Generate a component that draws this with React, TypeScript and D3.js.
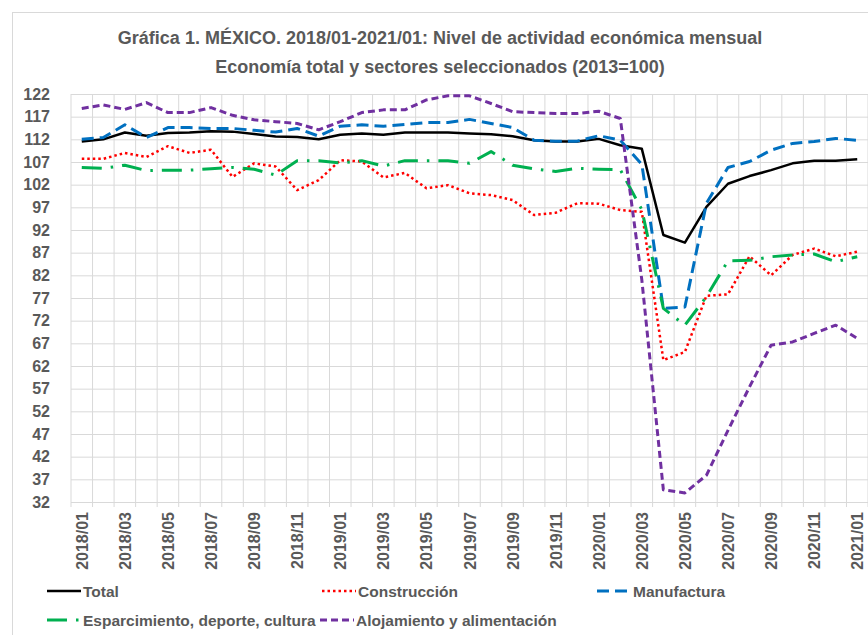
import React, { useEffect, useRef } from 'react';
import * as d3 from 'd3';

const months = [
  '2018/01', '2018/02', '2018/03', '2018/04', '2018/05', '2018/06', '2018/07', '2018/08', '2018/09', '2018/10', '2018/11', '2018/12',
  '2019/01', '2019/02', '2019/03', '2019/04', '2019/05', '2019/06', '2019/07', '2019/08', '2019/09', '2019/10', '2019/11', '2019/12',
  '2020/01', '2020/02', '2020/03', '2020/04', '2020/05', '2020/06', '2020/07', '2020/08', '2020/09', '2020/10', '2020/11', '2020/12',
  '2021/01',
];

const total = [
  111.5, 112.0, 113.5, 112.8, 113.4, 113.5, 113.8, 113.7, 113.2, 112.6, 112.5, 112.0,
  113.0, 113.3, 113.0, 113.5, 113.5, 113.5, 113.3, 113.1, 112.7, 111.8, 111.5, 111.5,
  112.1, 110.7, 109.9, 90.9, 89.2, 97.1, 102.2, 103.9, 105.2, 106.7, 107.3, 107.3,
  107.6,
];

const construccion = [
  107.7, 107.7, 109.0, 108.1, 110.5, 109.0, 109.7, 103.7, 106.7, 106.0, 100.8, 103.0,
  107.4, 107.1, 103.6, 104.6, 101.2, 101.9, 100.1, 99.7, 98.6, 95.3, 95.8, 97.9,
  97.8, 96.4, 96.0, 63.3, 65.1, 77.5, 77.8, 86.2, 82.0, 86.5, 87.9, 86.2,
  87.2,
];

const manufactura = [
  112.0, 112.4, 115.2, 112.4, 114.6, 114.6, 114.4, 114.4, 114.0, 113.6, 114.4, 112.7,
  114.9, 115.2, 114.9, 115.3, 115.7, 115.7, 116.4, 115.5, 114.6, 111.8, 111.6, 111.6,
  112.8, 111.8, 106.5, 74.7, 75.0, 97.9, 105.8, 107.1, 109.6, 111.1, 111.5, 112.2,
  111.8,
];

const esparcimiento = [
  105.8, 105.6, 106.3, 105.1, 105.2, 105.2, 105.5, 105.8, 105.4, 104.1, 107.3, 107.3,
  106.8, 107.3, 106.1, 107.3, 107.3, 107.3, 106.7, 109.3, 106.3, 105.5, 104.9, 105.6,
  105.4, 105.3, 96.5, 74.7, 71.0, 77.3, 85.2, 85.3, 86.1, 86.5, 86.7, 85.0,
  86.1,
];

const alojamiento = [
  118.8, 119.6, 118.6, 120.1, 117.9, 117.9, 119.0, 117.3, 116.3, 115.9, 115.5, 114.1,
  115.9, 117.9, 118.5, 118.5, 120.7, 121.6, 121.6, 119.9, 118.1, 117.9, 117.7, 117.7,
  118.2, 116.6, 81.0, 34.7, 34.0, 37.9, 47.8, 57.4, 66.6, 67.3, 69.2, 71.0,
  68.1,
];

const yTicks = [32, 37, 42, 47, 52, 57, 62, 67, 72, 77, 82, 87, 92, 97, 102, 107, 112, 117, 122];

const series = [
  { name: 'Total', values: total, color: '#000000', width: 2.5, dash: null, row: 0, lx: 47 },
  { name: 'Construcción', values: construccion, color: '#FF0000', width: 2.5, dash: '2.5 3', row: 0, lx: 322 },
  { name: 'Manufactura', values: manufactura, color: '#0070C0', width: 3, dash: '12 6', row: 0, lx: 597 },
  { name: 'Esparcimiento, deporte, cultura', values: esparcimiento, color: '#00B050', width: 3, dash: '20 9 2.5 9', row: 1, lx: 47 },
  { name: 'Alojamiento y alimentación', values: alojamiento, color: '#7030A0', width: 3, dash: '7 4', row: 1, lx: 320 },
];

const font = "'Liberation Sans', Arial, sans-serif";

const App = () => {
  const ref = useRef(null);

  useEffect(() => {
    const W = 868;
    const H = 635;
    const svg = d3.select(ref.current).attr('width', W).attr('height', H);
    svg.selectAll('*').remove();

    const left = 71, right = 868, top = 94, bottom = 502;

    // chart frame
    svg.append('rect')
      .attr('x', 12.5).attr('y', 12.5)
      .attr('width', 900).attr('height', 700)
      .attr('fill', '#fff').attr('stroke', '#D9D9D9');

    // title
    const title = svg.append('text')
      .attr('text-anchor', 'middle')
      .attr('font-family', font)
      .attr('font-weight', 'bold')
      .attr('font-size', 18)
      .attr('fill', '#595959');
    title.append('tspan').attr('x', 440).attr('y', 44)
      .text('Gráfica 1. MÉXICO. 2018/01-2021/01: Nivel de actividad económica mensual');
    title.append('tspan').attr('x', 440).attr('y', 73)
      .text('Economía total y sectores seleccionados (2013=100)');

    const x = d3.scaleBand().domain(months).range([left, right]);
    const y = d3.scaleLinear().domain([32, 122]).range([bottom, top]);

    // horizontal grid + y labels
    const yAxis = svg.append('g')
      .attr('transform', `translate(${left},0)`)
      .call(d3.axisLeft(y).tickValues(yTicks).tickSize(-(right - left)).tickPadding(21));
    yAxis.select('.domain').remove();
    yAxis.selectAll('line').attr('stroke', '#D9D9D9').attr('stroke-width', 1);
    yAxis.selectAll('text')
      .attr('font-family', font).attr('font-weight', 'bold')
      .attr('font-size', 16).attr('fill', '#595959');

    // vertical grid lines at category boundaries
    const bounds = months.map(m => x(m)).concat([right]);
    svg.append('g').selectAll('line')
      .data(bounds)
      .enter()
      .append('line')
      .attr('x1', d => d).attr('x2', d => d)
      .attr('y1', top).attr('y2', bottom + 5)
      .attr('stroke', '#D9D9D9').attr('stroke-width', 1);

    // x labels
    svg.append('g').selectAll('text')
      .data(months.filter((m, i) => i % 2 === 0))
      .enter()
      .append('text')
      .attr('transform', d => `translate(${x(d) + x.bandwidth() / 2 + 6},${bottom + 10}) rotate(-90)`)
      .attr('text-anchor', 'end')
      .attr('font-family', font).attr('font-weight', 'bold')
      .attr('font-size', 16).attr('fill', '#595959')
      .text(d => d);

    // series lines
    const line = d3.line()
      .x((d, i) => x(months[i]) + x.bandwidth() / 2)
      .y(d => y(d));

    series.forEach(s => {
      svg.append('path')
        .datum(s.values)
        .attr('d', line)
        .attr('fill', 'none')
        .attr('stroke', s.color)
        .attr('stroke-width', s.width)
        .attr('stroke-dasharray', s.dash)
        .attr('stroke-linejoin', 'round');
    });

    // legend
    series.forEach(s => {
      const ly = s.row === 0 ? 591 : 620;
      const g = svg.append('g');
      g.append('line')
        .attr('x1', s.lx).attr('x2', s.lx + 34)
        .attr('y1', ly).attr('y2', ly)
        .attr('stroke', s.color)
        .attr('stroke-width', s.width)
        .attr('stroke-dasharray', s.dash);
      g.append('text')
        .attr('x', s.lx + 36).attr('y', ly + 5.5)
        .attr('font-family', font).attr('font-weight', 'bold')
        .attr('font-size', 15.5).attr('fill', '#595959')
        .text(s.name);
    });
  }, []);

  return <svg ref={ref} style={{ position: 'absolute', left: 0, top: 0 }}></svg>;
};

export default App;
